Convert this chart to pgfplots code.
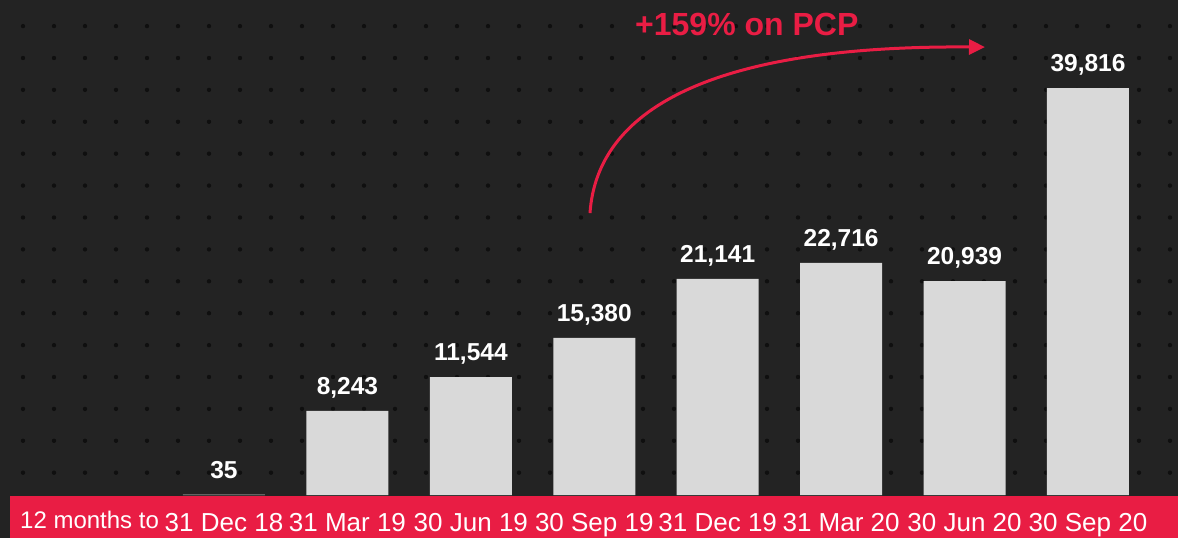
\documentclass[border=0pt]{standalone}
\usepackage{fontspec}
\setmainfont{Liberation Sans}
\usepackage{pgfplots}
\pgfplotsset{compat=1.18}
\usetikzlibrary{arrows.meta}

\definecolor{bg}{HTML}{232323}
\definecolor{dotc}{HTML}{0F0F0F}
\definecolor{accent}{HTML}{E91D44}
\definecolor{barc}{HTML}{D9D9D9}

\begin{document}
\begin{tikzpicture}[x=1pt,y=1pt]
  % dark backdrop with a dotted grid
  \fill[bg] (0,0) rectangle (1178,538);
  \foreach \i in {0,...,37}{
    \foreach \j in {0,...,14}{
      \fill[dotc] ({23+31*\i},{512-31.9*\j}) circle (2.2);
    }
  }
  % red category band
  \fill[accent] (10,0) rectangle (1178,42);
  \node[anchor=base west, text=white, font=\fontsize{24}{28}\selectfont, inner sep=0]
    at (20,10) {12 months to};

  \begin{axis}[
    at={(0,0)}, anchor=south west,
    scale only axis,
    width=1178pt, height=538pt,
    xmin=-0.8148, xmax=8.7294,
    ymin=-4207, ymax=48425,
    axis line style={draw=none},
    ytick=\empty,
    xtick={1,...,8},
    xticklabels={31 Dec 18,31 Mar 19,30 Jun 19,30 Sep 19,31 Dec 19,31 Mar 20,30 Jun 20,30 Sep 20},
    major tick length=0pt,
    xticklabel style={font=\fontsize{26}{30}\selectfont, text=white, anchor=base, yshift=7pt, inner sep=0},
    ybar, bar width=82pt,
    clip=false,
    nodes near coords,
    point meta=y,
    every node near coord/.append style={
      font=\fontsize{24.5}{28}\selectfont\bfseries, text=white,
      anchor=base, yshift=16.5pt, inner sep=0,
      /pgf/number format/.cd, fixed, precision=0, 1000 sep={,}, assume math mode=true},
  ]
    \addplot[fill=barc, draw=none] coordinates {
      (1,35) (2,8243) (3,11544) (4,15380) (5,21141) (6,22716) (7,20939) (8,39816)
    };
  \end{axis}

  % growth arrow and caption
  \draw[accent, line width=3pt, -{Triangle[length=16pt,width=15pt]}]
    (590,325) .. controls (597,428) and (710,493) .. (985,491);
  \node[anchor=base west, text=accent, font=\fontsize{32}{37}\selectfont\bfseries, inner sep=0]
    at (635,503) {+159\% on PCP};
\end{tikzpicture}
\end{document}
